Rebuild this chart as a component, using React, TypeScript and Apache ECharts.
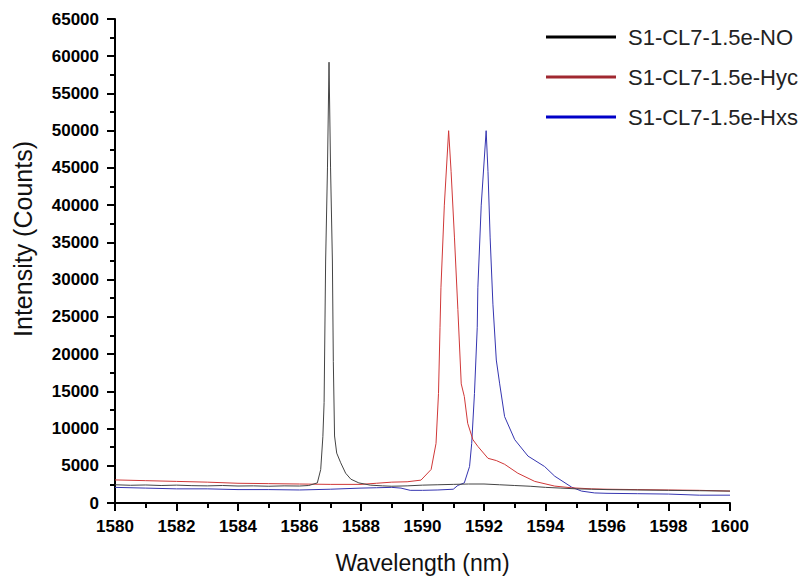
import React, { useEffect, useRef } from "react";
import * as echarts from "echarts";

const seriesNames = ["S1-CL7-1.5e-NO", "S1-CL7-1.5e-Hyc", "S1-CL7-1.5e-Hxs"];

const noX = [1580,1580.5,1581,1581.5,1582,1582.5,1583,1583.5,1584,1584.5,1585,1585.5,1586,1586.3,1586.58,1586.69,1586.76,1586.8,1586.85,1586.91,1586.96,1587.01,1587.07,1587.1,1587.14,1587.21,1587.34,1587.5,1587.67,1587.93,1588.3,1588.7,1589,1589.5,1590,1590.5,1591,1591.5,1592,1592.5,1593,1593.5,1594,1594.5,1595,1595.5,1596,1597,1598,1599,1600];
const noY = [2450,2380,2420,2350,2400,2330,2300,2350,2280,2300,2250,2300,2280,2350,2700,4500,8900,13500,32500,45000,59200,45000,32500,19000,9000,6700,5400,4000,3200,2700,2400,2300,2250,2300,2400,2450,2500,2550,2550,2450,2350,2250,2100,2000,1900,1850,1800,1750,1700,1650,1600];

const hycX = [1580,1581,1582,1583,1584,1585,1586,1587,1588,1588.5,1589,1589.5,1589.95,1590.28,1590.44,1590.52,1590.57,1590.6,1590.71,1590.85,1590.93,1591.04,1591.15,1591.26,1591.36,1591.47,1591.64,1591.8,1592.13,1592.4,1592.67,1593.1,1593.65,1594.3,1594.85,1595.5,1596,1597,1598,1599,1600];
const hycY = [3100,3000,2900,2800,2650,2600,2550,2500,2500,2650,2800,2850,3070,4500,8000,14700,23600,28900,40000,50000,44500,35600,26000,16000,14300,10700,8500,7600,6000,5700,5200,4000,2900,2270,2040,1900,1850,1800,1750,1700,1600];

const hxsX = [1580,1581,1582,1583,1584,1585,1586,1587,1588,1588.5,1589,1589.3,1589.6,1590,1590.5,1591,1591.15,1591.36,1591.53,1591.6,1591.69,1591.78,1591.8,1591.91,1592.07,1592.13,1592.2,1592.29,1592.4,1592.51,1592.67,1593,1593.43,1593.97,1594.3,1594.85,1595.17,1595.6,1596,1597,1598,1599,1600];
const hxsY = [2100,2000,1900,1900,1800,1800,1750,1850,2000,2050,2100,2000,1700,1700,1750,1850,2360,2700,4900,8000,14700,23600,28900,40000,50000,44500,35600,26700,19200,16000,11600,8500,6300,4900,3600,2130,1600,1350,1300,1250,1200,1050,1050];

const lineColors = ["#444444", "#d03838", "#3535b0"];
const legendColors = ["#000000", "#a02830", "#0000c8"];

const zip = (xs: number[], ys: number[]) => xs.map((x, i) => [x, ys[i]]);

export default function App() {
  const ref = useRef<HTMLDivElement>(null);
  useEffect(() => {
    if (!ref.current) return;
    const chart = echarts.init(ref.current, null, { renderer: "svg" });
    const font = "'Liberation Sans', Arial, sans-serif";
    const xs = [noX, hycX, hxsX];
    const ys = [noY, hycY, hxsY];
    const fmt = (v: number) => String(v);
    chart.setOption({
      animation: false,
      backgroundColor: "#ffffff",
      grid: { left: 115, width: 615, top: 19, height: 488 },
      legend: {
        orient: "vertical",
        left: 541,
        top: 21,
        itemWidth: 70,
        itemHeight: 3,
        itemGap: 18,
        icon: "rect",
        textStyle: { fontFamily: font, fontSize: 22, color: "#222", padding: [0, 0, 0, 7] },
        data: seriesNames.map((n, i) => ({
          name: n,
          itemStyle: { color: legendColors[i] },
        })),
      },
      xAxis: {
        type: "value",
        min: 1580,
        max: 1600,
        interval: 2,
        name: "Wavelength (nm)",
        nameLocation: "middle",
        nameGap: 48,
        nameTextStyle: { fontFamily: font, fontSize: 23, color: "#111" },
        axisLine: { show: true, lineStyle: { color: "#000", width: 2 } },
        axisTick: { show: true, length: 8, lineStyle: { color: "#000", width: 2 } },
        minorTick: { show: true, splitNumber: 2, length: 5, lineStyle: { color: "#000", width: 2 } },
        splitLine: { show: false },
        axisLabel: { fontFamily: font, fontSize: 17, fontWeight: "bold", color: "#000", margin: 15, formatter: fmt },
      },
      yAxis: {
        type: "value",
        min: 0,
        max: 65000,
        interval: 5000,
        name: "Intensity (Counts)",
        nameLocation: "middle",
        nameGap: 80,
        nameTextStyle: { fontFamily: font, fontSize: 25, color: "#111", padding: [0, 0, 0, 44] },
        axisLine: { show: true, lineStyle: { color: "#000", width: 2 } },
        axisTick: { show: true, length: 8, lineStyle: { color: "#000", width: 2 } },
        minorTick: { show: true, splitNumber: 2, length: 5, lineStyle: { color: "#000", width: 2 } },
        splitLine: { show: false },
        axisLabel: { fontFamily: font, fontSize: 17, fontWeight: "bold", color: "#000", margin: 16, formatter: fmt },
      },
      series: seriesNames.map((n, i) => ({
        name: n,
        type: "line",
        symbol: "none",
        data: zip(xs[i], ys[i]),
        lineStyle: { color: lineColors[i], width: 1 },
        itemStyle: { color: legendColors[i] },
        z: 3 - i,
      })),
    });
    return () => chart.dispose();
  }, []);
  return <div ref={ref} style={{ width: 801, height: 579, position: "absolute", left: 0, top: 0 }} />;
}
